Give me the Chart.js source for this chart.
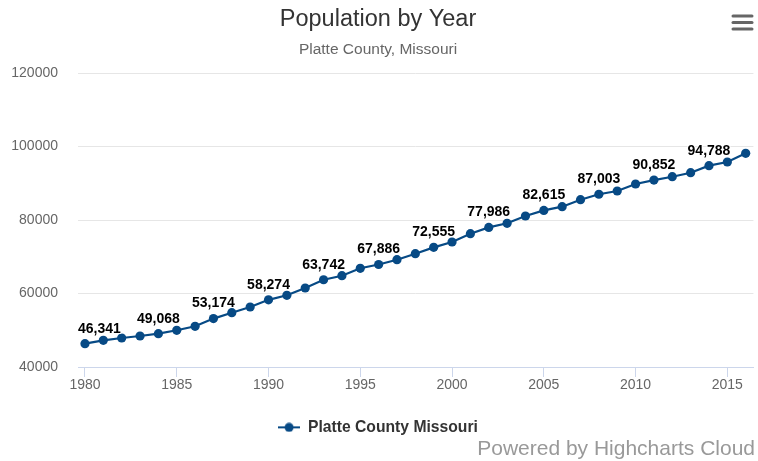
<!DOCTYPE html>
<html>
<head>
<meta charset="utf-8">
<title>Population by Year</title>
<script src="https://cdn.jsdelivr.net/npm/chart.js@4.4.0/dist/chart.umd.min.js"></script>
<style>
  html, body { margin: 0; padding: 0; background: #fff; }
  canvas { display: block; }
</style>
</head>
<body>
<canvas id="myChart" width="758" height="461"></canvas>
<script>
// data
var years = [1980, 1981, 1982, 1983, 1984, 1985, 1986, 1987, 1988, 1989,
  1990, 1991, 1992, 1993, 1994, 1995, 1996, 1997, 1998, 1999,
  2000, 2001, 2002, 2003, 2004, 2005, 2006, 2007, 2008, 2009,
  2010, 2011, 2012, 2013, 2014, 2015, 2016];
var population = [46341, 47250, 47890, 48430, 49068, 49990, 51080, 53174, 54780, 56330,
  58274, 59510, 61500, 63742, 64840, 66860, 67886, 69200, 70830, 72555,
  74010, 76270, 77986, 79100, 81090, 82615, 83620, 85520, 87003, 87890,
  89790, 90852, 91780, 92870, 94788, 95780, 98150];
var labeledYears = [1980, 1984, 1987, 1990, 1993, 1996, 1999, 2002, 2005, 2008, 2011, 2014];
var xTickYears = [1980, 1985, 1990, 1995, 2000, 2005, 2010, 2015];
var seriesName = 'Platte County Missouri';
var lineColor = '#074a85';
var fontFamily = '"Liberation Sans", Arial, Helvetica, sans-serif';

// legend symbol: short line with a dot, like the reference
var legendIcon = document.createElement('canvas');
legendIcon.width = 22;
legendIcon.height = 10;
(function() {
  var c = legendIcon.getContext('2d');
  c.strokeStyle = lineColor;
  c.lineWidth = 2;
  c.beginPath();
  c.moveTo(0, 5);
  c.lineTo(22, 5);
  c.stroke();
  c.fillStyle = lineColor;
  c.beginPath();
  c.arc(11, 5, 4.5, 0, Math.PI * 2);
  c.fill();
})();

var dataLabels = {
  id: 'dataLabels',
  afterDatasetsDraw: function(chart) {
    var ctx = chart.ctx;
    var meta = chart.getDatasetMeta(0);
    var area = chart.chartArea;
    ctx.save();
    ctx.font = 'bold 14px ' + fontFamily;
    ctx.textAlign = 'center';
    ctx.textBaseline = 'middle';
    ctx.lineJoin = 'round';
    labeledYears.forEach(function(yr) {
      var i = years.indexOf(yr);
      var pt = meta.data[i];
      var text = population[i].toLocaleString('en-US');
      var w = ctx.measureText(text).width;
      var x = pt.x;
      if (x - w / 2 < area.left) x = area.left + w / 2;
      if (x + w / 2 > area.right) x = area.right - w / 2;
      var y = pt.y - 15;
      ctx.strokeStyle = '#fff';
      ctx.lineWidth = 2;
      ctx.strokeText(text, x, y);
      ctx.fillStyle = '#000';
      ctx.fillText(text, x, y);
    });
    ctx.restore();
  }
};

var extras = {
  id: 'extras',
  afterDraw: function(chart) {
    var ctx = chart.ctx;
    ctx.save();
    // credits
    ctx.font = '21px ' + fontFamily;
    ctx.fillStyle = '#999';
    ctx.textAlign = 'right';
    ctx.textBaseline = 'middle';
    ctx.fillText('Powered by Highcharts Cloud', 755, 449);
    // menu button
    ctx.strokeStyle = '#666';
    ctx.lineWidth = 3;
    ctx.lineCap = 'round';
    [16, 22.5, 29].forEach(function(y) {
      ctx.beginPath();
      ctx.moveTo(733, y);
      ctx.lineTo(752, y);
      ctx.stroke();
    });
    ctx.restore();
  }
};

var ctx = document.getElementById('myChart').getContext('2d');
var myChart = new Chart(ctx, {
  type: 'line',
  data: {
    datasets: [{
      label: seriesName,
      data: years.map(function(y, i) { return { x: y, y: population[i] }; }),
      borderColor: lineColor,
      backgroundColor: lineColor,
      borderWidth: 2.2,
      pointRadius: 4.6,
      pointHoverRadius: 4.6,
      pointBackgroundColor: lineColor,
      pointBorderWidth: 0,
      fill: false,
      tension: 0
    }]
  },
  options: {
    responsive: false,
    animation: false,
    layout: { padding: { top: 0, right: 2, bottom: 15.8, left: 0 } },
    plugins: {
      title: {
        display: true,
        text: 'Population by Year',
        color: '#333',
        font: { family: fontFamily, size: 23.5, weight: 'normal' },
        padding: { top: 5.9, bottom: 4 }
      },
      subtitle: {
        display: true,
        text: 'Platte County, Missouri',
        color: '#666',
        font: { family: fontFamily, size: 15.5 },
        padding: { top: 2.6, bottom: 13.7 }
      },
      legend: {
        position: 'bottom',
        labels: {
          usePointStyle: true,
          pointStyle: legendIcon,
          pointStyleWidth: 22,
          color: '#333',
          font: { family: fontFamily, size: 15.7, weight: 'bold' },
          padding: 10
        }
      },
      tooltip: { enabled: false }
    },
    scales: {
      x: {
        type: 'linear',
        min: 1979.62,
        max: 2016.42,
        afterBuildTicks: function(scale) {
          scale.ticks = xTickYears.map(function(v) { return { value: v }; });
        },
        afterFit: function(scale) { scale.height = 42.5; },
        ticks: {
          color: '#666',
          font: { family: fontFamily, size: 14 },
          padding: 0,
          maxRotation: 0,
          callback: function(v) { return String(v); }
        },
        grid: {
          drawOnChartArea: false,
          drawTicks: true,
          tickLength: 10,
          color: '#ccd6eb'
        },
        border: { color: '#ccd6eb', width: 1 }
      },
      y: {
        min: 40000,
        max: 120000,
        afterFit: function(scale) { scale.width = 78; },
        ticks: {
          stepSize: 20000,
          color: '#666',
          font: { family: fontFamily, size: 14 },
          padding: 20,
          callback: function(v) { return String(v); }
        },
        grid: { color: '#e6e6e6', drawTicks: false },
        border: { display: false }
      }
    }
  },
  plugins: [dataLabels, extras]
});
</script>
</body>
</html>
